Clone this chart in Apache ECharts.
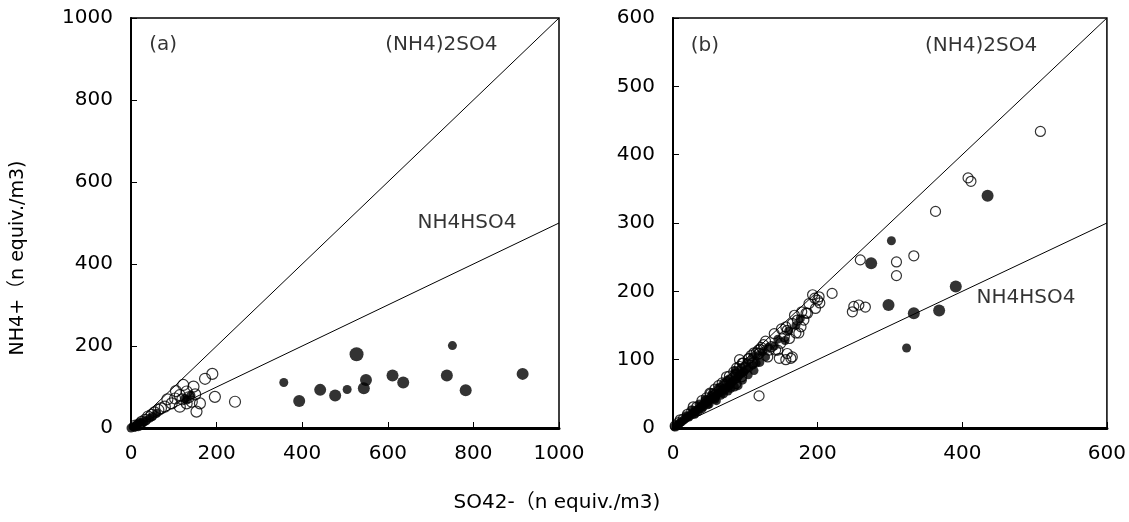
<!DOCTYPE html>
<html><head><meta charset="utf-8">
<script src="https://cdn.jsdelivr.net/npm/echarts@6/dist/echarts.min.js"></script>
<style>html,body{margin:0;padding:0;background:#fff}#c{width:1129px;height:522px}</style>
</head><body><div id="c"></div>
<script>
// ---------- data ----------
const xTicksA = [0, 200, 400, 600, 800, 1000];
const yTicksA = [0, 200, 400, 600, 800, 1000];
const xTicksB = [0, 200, 400, 600];
const yTicksB = [0, 100, 200, 300, 400, 500, 600];

const lineFullA = [[0, 0], [1000, 1000]];   // (NH4)2SO4 : NH4+ = SO42-
const lineHalfA = [[0, 0], [1000, 500]];    // NH4HSO4 : NH4+ = SO42-/2
const lineFullB = [[0, 0], [600, 600]];
const lineHalfB = [[0, 0], [600, 300]];

const openA = [[190,132],[173,120],[196,76],[243,64],[153,40],[146,101],[130,89],[114,80],[130,60],[142,64],
  [103,72],[79,52],[64,44],[48,32],[33,20],[17,7],[114,52],[161,60],[122,105],[95,60],[85,70],[70,48],
  [55,38],[40,28],[25,15],[10,6],[135,75],[150,82],[105,90],[120,70]];
const filledA = [[393,66],[442,93],[477,79],[549,117],[544,97],[611,128],[636,111],[738,128],[782,92],[915,132]];
const filledBigA = [[527,180]];
const filledSmallA = [[357,111],[505,94],[751,201],[0,0],[5,3],[12,6],[20,14],[25,11],[35,18],[44,24],
  [60,36],[126,72],[130,68],[8,2],[15,9],[30,15],[50,28],[140,80]];

const openB = [[508,434],[408,366],[412,361],[363,317],[259,246],[309,243],[333,252],[309,223],[220,197],
  [248,170],[257,180],[266,177],[250,178],[119,47],
  [193,195],[200,187],[188,182],[197,175],[186,168],[181,158],[172,158],[165,153],[177,148],[158,143],
  [170,139],[154,134],[161,131],[149,124],[136,119],[145,114],[158,109],[163,102],[131,104],[147,102],
  [119,109],[92,100],[202,192],[184,168],[174,139],[156,148],[133,114],[97,95],[74,75],[51,51],[28,31],
  [10,12],[165,104],[156,100],[142,114],[87,65],[203,183],[196,190],[178,170],[168,165],[150,145],
  [140,138],[125,122],[115,110],[105,102],[110,95],[100,88],[120,115],[3,3],[8,8],[14,13],[20,20],
  [26,25],[33,31],[40,40],[46,44],[52,50],[58,57],[63,62],[68,66],[78,76],[84,82],[88,88],[92,90],
  [96,95],[104,101],[108,106],[112,110],[118,114],[122,118],[128,127],[95,75],[88,78]];
const filledBigB = [[435,340],[274,241],[391,207],[298,180],[333,168],[368,172]];
const filledSmallB = [[302,274],[323,117]];
const filledBandB = [[2,2],[5,4],[8,6],[10,8],[12,9],[15,12],[18,14],[20,17],[22,16],[25,20],[28,22],
  [30,25],[32,24],[35,28],[38,30],[40,33],[42,31],[45,36],[48,38],[50,40],[52,42],[55,45],[58,44],
  [60,48],[62,50],[65,52],[68,55],[70,58],[72,56],[75,60],[78,62],[80,65],[82,68],[85,70],[88,72],
  [90,75],[92,78],[95,80],[98,82],[100,85],[105,88],[110,92],[115,95],[60,40],[70,50],[80,58],[85,60],
  [50,35],[40,28],[30,20],[45,42],[55,52],[65,60],[75,70],[85,80],[18,18],[27,26],[36,35],[44,40],
  [53,48],[62,58],[70,66],[78,72],[86,84],[94,88],[102,96],[110,104],[118,106],[124,112],[132,118],
  [35,24],[48,34],[58,42],[66,48],[76,54],[90,62],[96,70],[104,78],[112,84],[120,96],[128,104],
  [140,120],[145,130],[155,128],[160,142],[170,150],[176,160]];

const annotA = [{t:'(a)', p:[75, 934]}, {t:'(NH4)2SO4', p:[725, 934]}, {t:'NH4HSO4', p:[785, 500]}];
const annotB = [{t:'(b)', p:[44, 560]}, {t:'(NH4)2SO4', p:[426, 560]}, {t:'NH4HSO4', p:[488, 190]}];

const yTitle = 'NH4+（n equiv./m3)';
const xTitle = 'SO42-（n equiv./m3)';

// ---------- chart ----------
const FONT = '"DejaVu Sans", "Noto Sans CJK JP", sans-serif';
const chart = echarts.init(document.getElementById('c'), null, {renderer: 'canvas'});

function xAxis(idx, ticks) {
  return {
    gridIndex: idx, type: 'value', min: ticks[0], max: ticks[ticks.length - 1],
    interval: ticks[1] - ticks[0], splitLine: {show: false},
    axisLine: {show: true, lineStyle: {color: '#000', width: 3}},
    axisTick: {show: true, inside: true, length: 6, lineStyle: {color: '#000', width: 1}},
    axisLabel: {color: '#000', fontSize: 20, fontFamily: FONT, margin: 16, formatter: v => String(v)}
  };
}
function yAxis(idx, ticks) {
  return {
    gridIndex: idx, type: 'value', min: ticks[0], max: ticks[ticks.length - 1],
    interval: ticks[1] - ticks[0], splitLine: {show: false},
    axisLine: {show: true, lineStyle: {color: '#000', width: 2}},
    axisTick: {show: true, inside: true, length: 6, lineStyle: {color: '#000', width: 1}},
    axisLabel: {color: '#000', fontSize: 20, fontFamily: FONT, margin: 18, formatter: v => String(v)}
  };
}
function refLine(idx, data) {
  return {type: 'line', xAxisIndex: idx, yAxisIndex: idx, data: data, symbol: 'none',
    lineStyle: {color: '#000', width: 1}, silent: true, z: 1};
}
function openSeries(idx, data, size) {
  return {type: 'scatter', xAxisIndex: idx, yAxisIndex: idx, data: data, symbol: 'circle', symbolSize: size,
    itemStyle: {color: 'rgba(255,255,255,0)', borderColor: '#000', borderWidth: 1.2}, z: 3};
}
function filledSeries(idx, data, size) {
  return {type: 'scatter', xAxisIndex: idx, yAxisIndex: idx, data: data, symbol: 'circle', symbolSize: size,
    itemStyle: {color: '#000'}, z: 4};
}
function annotSeries(idx, list) {
  return {type: 'scatter', xAxisIndex: idx, yAxisIndex: idx, symbolSize: 0, silent: true, z: 5,
    data: list.map(a => ({value: a.p, name: a.t})),
    label: {show: true, position: 'inside', formatter: p => p.name, color: '#000', fontSize: 20, fontFamily: FONT}};
}

chart.setOption({
  animation: false,
  backgroundColor: '#fff',
  grid: [
    {left: 131, top: 18, width: 428, height: 410, show: true, borderColor: '#000', borderWidth: 1.5, backgroundColor: 'transparent'},
    {left: 673, top: 18, width: 437, height: 410, show: true, borderColor: '#000', borderWidth: 1.5, backgroundColor: 'transparent'}
  ],
  xAxis: [xAxis(0, xTicksA), xAxis(1, xTicksB)],
  yAxis: [yAxis(0, yTicksA), yAxis(1, yTicksB)],
  series: [
    refLine(0, lineFullA), refLine(0, lineHalfA), refLine(1, lineFullB), refLine(1, lineHalfB),
    openSeries(0, openA, 11), filledSeries(0, filledA, 12), filledSeries(0, filledBigA, 14), filledSeries(0, filledSmallA, 9),
    openSeries(1, openB, 10), filledSeries(1, filledBandB, 9), filledSeries(1, filledBigB, 12), filledSeries(1, filledSmallB, 9),
    annotSeries(0, annotA), annotSeries(1, annotB)
  ],
  graphic: [
    {type: 'text', rotation: Math.PI / 2, x: 9, y: 258,
      style: {text: yTitle, fill: '#000', fontSize: 19, fontFamily: FONT, textAlign: 'center', textVerticalAlign: 'top'}},
    {type: 'text', x: 557, y: 493,
      style: {text: xTitle, fill: '#000', fontSize: 20, fontFamily: FONT, textAlign: 'center', textVerticalAlign: 'top'}}
  ]
});
</script></body></html>
